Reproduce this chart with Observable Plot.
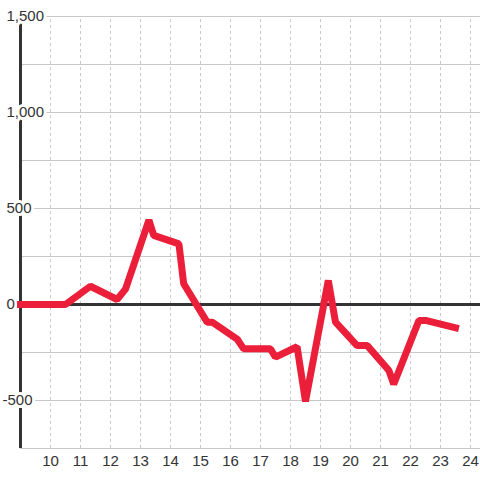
<!DOCTYPE html>
<html>
<head>
<meta charset="utf-8">
<script src="https://cdn.jsdelivr.net/npm/d3@7"></script>
<script src="https://cdn.jsdelivr.net/npm/@observablehq/plot@0.6"></script>
<style>
  html, body { margin: 0; padding: 0; background: #fff; }
  #chart svg { display: block; }
</style>
</head>
<body>
<div id="chart"></div>
<script>
const hours  = [9, 10.5, 11.33, 12.22, 12.5, 13.28, 13.44, 14.28, 14.44, 15.22, 15.39, 16.22, 16.44, 17.33, 17.5, 18.22, 18.5, 19.26, 19.5, 20.22, 20.56, 21.28, 21.44, 22.28, 22.5, 23.5];
const values = [0, 0, 95, 26, 80, 440, 360, 316, 108, -92, -92, -180, -231, -231, -274, -220, -505, 125, -92, -214, -214, -344, -415, -83, -83, -121];
const xTicks = [10, 11, 12, 13, 14, 15, 16, 17, 18, 19, 20, 21, 22, 23, 24];
const yGrid = [-750, -500, -250, 250, 500, 750, 1000, 1250, 1500];
const yLabels = [1500, 1000, 500, 0, -500];

const data = hours.map((h, i) => ({hour: h, value: values[i]}));
const fmt = d3.format(",");
const labelRows = yLabels.map(v => ({v, s: v < 0 ? "-" + fmt(-v) : fmt(v)}));

const font = "Liberation Sans, Arial, sans-serif";

const chart = Plot.plot({
  width: 480,
  height: 480,
  marginTop: 16,
  marginBottom: 32,
  marginLeft: 20,
  marginRight: 0,
  style: {fontFamily: font, fontSize: "15px", color: "#333", background: "#fff"},
  x: {domain: [9, 24.3333], axis: null},
  y: {domain: [-750, 1500], axis: null},
  marks: [
    Plot.ruleY(yGrid, {stroke: "#c8c8c8", strokeWidth: 1}),
    Plot.ruleX(xTicks, {y1: -750, y2: 1500, stroke: "#c8c8c8", strokeWidth: 1, strokeDasharray: "3,3"}),
    Plot.ruleY([0], {stroke: "#333", strokeWidth: 3}),
    Plot.ruleX([9], {y1: -750, y2: 1500, stroke: "#333", strokeWidth: 3}),
    Plot.text(labelRows.filter(d => d.v >= 0), {x: 9, y: "v", text: "s", textAnchor: "start", dx: -14, fill: "#333", stroke: "#fff", strokeWidth: 6, fontSize: 15}),
    Plot.text(labelRows.filter(d => d.v < 0), {x: 9, y: "v", text: "s", textAnchor: "start", dx: -18, fill: "#333", stroke: "#fff", strokeWidth: 6, fontSize: 15}),
    Plot.axisX(xTicks, {tickSize: 0, tickPadding: 7, fontSize: 15, fill: "#333", label: null}),
    Plot.line(data, {x: "hour", y: "value", stroke: "#ec1f3a", strokeWidth: 7, strokeLinejoin: "miter", strokeLinecap: "square"})
  ]
});
document.getElementById("chart").append(chart);
</script>
</body>
</html>
